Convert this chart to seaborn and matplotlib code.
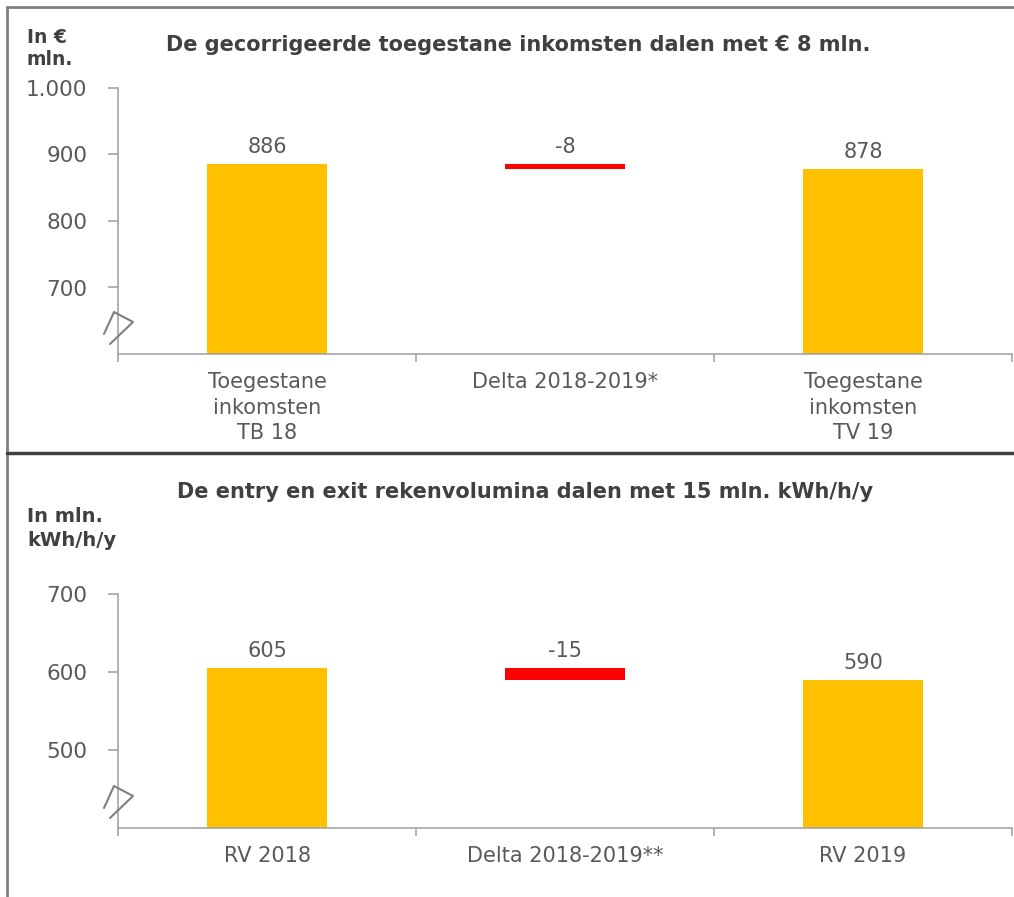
import numpy as np
import pandas as pd
import seaborn as sns
import matplotlib.pyplot as plt
from matplotlib.lines import Line2D
from matplotlib.ticker import FuncFormatter

# top panel: toegestane inkomsten (EUR mln.)
inc_cats = ["Toegestane\ninkomsten\nTB 18", "Delta 2018-2019*", "Toegestane\ninkomsten\nTV 19"]
inc_start = 886
inc_end = 878
inc_ylim = (600, 1000)
inc_ticks = [700, 800, 900, 1000]

# bottom panel: rekenvolumina (mln. kWh/h/y)
vol_cats = ["RV 2018", "Delta 2018-2019**", "RV 2019"]
vol_start = 605
vol_end = 590
vol_ylim = (400, 700)
vol_ticks = [500, 600, 700]

YELLOW = "#FFC000"
RED = "#FF0000"
TXT = "#595959"
DARK = "#404040"
AXC = "#A6A6A6"

sns.set_theme(style="white")
plt.rcParams["font.family"] = ["DejaVu Sans"]

W, H = 1014, 897
fig = plt.figure(figsize=(W / 100, H / 100), dpi=100)


def px_ax(x0, y0, x1, y1):
    return fig.add_axes([x0 / W, 1 - y1 / H, (x1 - x0) / W, (y1 - y0) / H])


def waterfall(ax, cats, start, end, ylim, ticks):
    delta = end - start
    df = pd.DataFrame({"cat": [cats[0], cats[2]], "val": [start, end]})
    sns.barplot(data=df, x="cat", y="val", order=cats, color=YELLOW,
                width=0.4, saturation=1, linewidth=0, ax=ax)
    ax.bar(1, delta, bottom=start, width=0.4, color=RED, linewidth=0)
    ax.set_xlim(-0.5, 2.5)
    ax.set_ylim(*ylim)
    ax.set_yticks(ticks)
    ax.yaxis.set_major_formatter(FuncFormatter(lambda v, p: f"{int(v):,}".replace(",", ".")))
    ax.set_xlabel("")
    ax.set_ylabel("")
    for s in ["top", "right"]:
        ax.spines[s].set_visible(False)
    for s in ["left", "bottom"]:
        ax.spines[s].set_color(AXC)
        ax.spines[s].set_linewidth(1.2)
    ax.set_xticks([0, 1, 2])
    ax.set_xticklabels(cats, fontsize=15, color=TXT, linespacing=1.35)
    ax.set_xticks([-0.5, 0.5, 1.5, 2.5], minor=True)
    ax.tick_params(axis="x", which="major", length=0, pad=13)
    ax.tick_params(axis="x", which="minor", length=6, color=AXC, width=1.2, direction="out", bottom=True)
    ax.tick_params(axis="y", length=7, color=AXC, width=1.2, direction="out", left=True,
                   labelsize=15.5, labelcolor=TXT, pad=15)
    # labels above bars
    for i, (v, top) in enumerate([(start, start), (delta, start), (end, end)]):
        ax.annotate(f"{v:d}", (i, top), xytext=(0, 5), textcoords="offset points",
                    ha="center", va="bottom", fontsize=15, color=TXT)


ax1 = px_ax(118, 88, 1012, 354)
waterfall(ax1, inc_cats, inc_start, inc_end, inc_ylim, inc_ticks)
ax2 = px_ax(118, 594, 1012, 828)
waterfall(ax2, vol_cats, vol_start, vol_end, vol_ylim, vol_ticks)

# titles and unit labels
fig.text(518 / W, 1 - 45 / H, "De gecorrigeerde toegestane inkomsten dalen met € 8 mln.",
         ha="center", va="center", fontsize=15, fontweight="bold", color=DARK)
fig.text(27 / W, 1 - 28 / H, "In €\nmln.", ha="left", va="top", fontsize=13.5,
         fontweight="bold", color=DARK, linespacing=1.2)
fig.text(525 / W, 1 - 492 / H, "De entry en exit rekenvolumina dalen met 15 mln. kWh/h/y",
         ha="center", va="center", fontsize=15, fontweight="bold", color=DARK)
fig.text(27 / W, 1 - 507 / H, "In mln.\nkWh/h/y", ha="left", va="top", fontsize=14,
         fontweight="bold", color=DARK, linespacing=1.3)


def fline(xs, ys, **kw):
    fig.add_artist(Line2D([x / W for x in xs], [1 - y / H for y in ys], **kw))


# axis break marks
for yb in (312, 786):
    fline([104, 114, 133, 110], [yb + 22, yb, yb + 10, yb + 32], color="#7F7F7F", lw=1.5)

# frame
fline([7, 7], [7, 897], color="#7F7F7F", lw=2)
fline([7, 1014], [7, 7], color="#7F7F7F", lw=2)
fline([7, 1014], [453, 453], color=DARK, lw=2.5)

fig.savefig("out.png", dpi=100, facecolor="white")
